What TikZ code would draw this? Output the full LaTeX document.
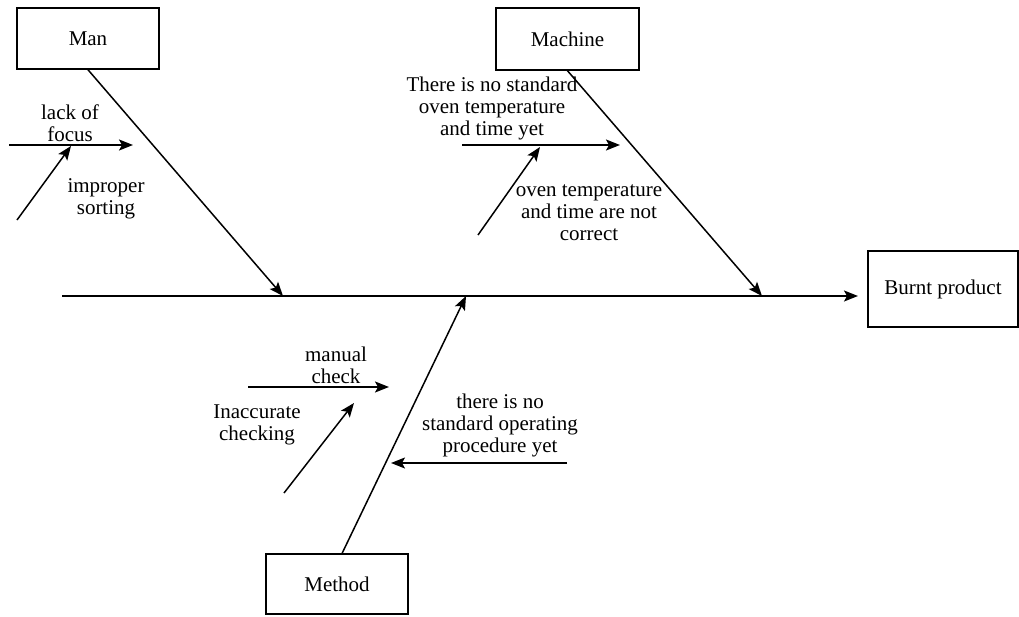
\documentclass[tikz,border=0pt]{standalone}
\usepackage{fontspec}
\setmainfont{Liberation Serif}
\usetikzlibrary{arrows.meta}
\begin{document}
\begin{tikzpicture}[x=1pt,y=-1pt,
  box/.style={draw,line width=1.5pt,inner sep=0pt,font=\fontsize{21}{22}\selectfont},
  lbl/.style={inner sep=0pt,align=center,font=\fontsize{21}{22}\selectfont},
  arr/.style={line width=1.5pt,-{Stealth[length=14pt,width=11pt,inset=3pt]}},
  ln/.style={line width=1.5pt}]
\useasboundingbox (0,0) rectangle (1019,616);
% boxes
\node[box,minimum width=142pt,minimum height=61pt] (man) at (88,38.5) {Man};
\node[box,minimum width=143pt,minimum height=62pt] (machine) at (567.5,39) {Machine};
\node[box,minimum width=142pt,minimum height=60pt] (method) at (337,584) {Method};
\node[box,minimum width=150pt,minimum height=76pt] (burnt) at (943,289) {Burnt product};
% spine
\coordinate (tail) at (62,296);
\coordinate (head) at (858,296);
\draw[arr] (tail) -- (head);
% main bones
\coordinate (manEnd) at (283,296);
\coordinate (machEnd) at (762,296);
\coordinate (methStart) at (342,553.5);
\coordinate (methEnd) at (466,296);
\draw[arr] (man.south) -- (manEnd);
\draw[arr] (machine.south) -- (machEnd);
\draw[arr] (methStart) -- (methEnd);
% Man sub-causes
\coordinate (a1) at (9,145); \coordinate (a2) at (133,145);
\coordinate (b1) at (17,220); \coordinate (b2) at (71,146);
\draw[arr] (a1) -- (a2);
\draw[arr] (b1) -- (b2);
\node[lbl] (lof) at (70,123) {lack of\\focus};
\node[lbl] (imp) at (106,199) {improper\\sorting};
% Machine sub-causes
\coordinate (c1) at (462,145); \coordinate (c2) at (620,145);
\coordinate (d1) at (478,235); \coordinate (d2) at (540,147);
\draw[arr] (c1) -- (c2);
\draw[arr] (d1) -- (d2);
\node[lbl] (nostd) at (492,108) {There is no standard\\oven temperature\\and time yet};
\node[lbl] (oven) at (589,213) {oven temperature\\and time are not\\correct};
% Method sub-causes
\coordinate (e1) at (248,387); \coordinate (e2) at (389,387);
\coordinate (f1) at (284,493); \coordinate (f2) at (354,403);
\coordinate (g1) at (567,463); \coordinate (g2) at (391,463);
\draw[arr] (e1) -- (e2);
\draw[arr] (f1) -- (f2);
\draw[arr] (g1) -- (g2);
\node[lbl] (man2) at (336,365) {manual\\check};
\node[lbl] (inacc) at (257,425) {Inaccurate\\checking};
\node[lbl] (sop) at (500,425) {there is no\\standard operating\\procedure yet};
\end{tikzpicture}
\end{document}
